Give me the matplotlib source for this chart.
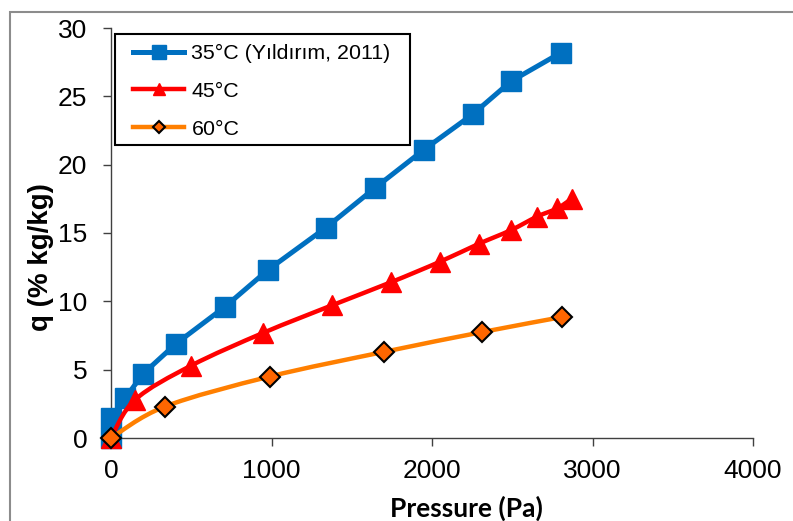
import numpy as np
import matplotlib
matplotlib.use("Agg")
import matplotlib.pyplot as plt
from matplotlib.path import Path
from matplotlib.patches import PathPatch, Rectangle
from matplotlib.lines import Line2D

# data
p35 = [0, 0, 87, 200, 405, 710, 978, 1340, 1645, 1950, 2255, 2492, 2804]
q35 = [0, 1.5, 2.9, 4.7, 6.9, 9.6, 12.3, 15.4, 18.3, 21.1, 23.7, 26.1, 28.2]

p45 = [0, 150, 500, 950, 1375, 1745, 2050, 2290, 2490, 2655, 2780, 2870]
q45 = [0, 2.8, 5.3, 7.7, 9.7, 11.4, 12.9, 14.2, 15.2, 16.2, 16.8, 17.5]

p60 = [0, 336, 990, 1700, 2312, 2810]
q60 = [0, 2.3, 4.5, 6.3, 7.75, 8.85]

labels = ["35°C (Yıldırım, 2011)", "45°C", "60°C"]
xticks = [0, 1000, 2000, 3000, 4000]
yticks = [0, 5, 10, 15, 20, 25, 30]


def smooth_path(x, y):
    # excel style smoothed line (catmull-rom -> bezier)
    pts = np.column_stack([x, y]).astype(float)
    verts = [pts[0]]
    codes = [Path.MOVETO]
    n = len(pts)
    for i in range(n - 1):
        p0 = pts[i - 1] if i > 0 else pts[i]
        p1 = pts[i]
        p2 = pts[i + 1]
        p3 = pts[i + 2] if i + 2 < n else pts[i + 1]
        verts += [p1 + (p2 - p0) / 6, p2 - (p3 - p1) / 6, p2]
        codes += [Path.CURVE4] * 3
    return Path(verts, codes)


blue = "#0070C0"
red = "#FF0000"
orange = "#FF7F00"

fig = plt.figure(figsize=(7.93, 5.21), dpi=100)
ax = fig.add_axes([111 / 793, 83 / 521, 642 / 793, 410 / 521])

# axes px -> axes fraction helpers
def axx(px):
    return (px - 111) / 642

def axy(py):
    return (438 - py) / 410

# 35 C
ax.plot(p35, q35, color=blue, lw=3.6, marker="s", ms=14.5, mec=blue, mfc=blue,
        zorder=3, clip_on=False)

# 45 C
ax.add_patch(PathPatch(smooth_path(p45, q45), fill=False, ec=red, lw=3.2, zorder=4))
ax.plot(p45, q45, ls="none", marker="^", ms=14, mfc=red, mec=red, zorder=4, clip_on=False)

# 60 C
ax.add_patch(PathPatch(smooth_path(p60, q60), fill=False, ec=orange, lw=3.2, zorder=5))
ax.plot(p60, q60, ls="none", marker="D", ms=10, mfc="#FF6600", mec="black", mew=1.5,
        zorder=5, clip_on=False)

ax.set_xlim(0, 4000)
ax.set_ylim(0, 30)
ax.set_xticks(xticks)
ax.set_yticks(yticks)

for s in ["top", "right"]:
    ax.spines[s].set_visible(False)
for s in ["left", "bottom"]:
    ax.spines[s].set_color("#404040")
    ax.spines[s].set_linewidth(1.0)
    ax.spines[s].set_zorder(1)

ax.tick_params(direction="out", length=6, width=1, color="#404040", labelsize=19)
ax.tick_params(axis="y", pad=11)
ax.tick_params(axis="x", pad=9)
for t in ax.get_xticklabels() + ax.get_yticklabels():
    t.set_fontfamily("Liberation Sans")

ax.set_ylabel("q (% kg/kg)", fontsize=20, fontweight="bold", family="Liberation Sans")
ax.yaxis.set_label_coords(axx(41), axy(257))
ax.yaxis.label.set_va("center")
ax.set_xlabel("Pressure (Pa)", fontsize=19, fontweight="bold", family="Lato")
ax.xaxis.set_label_coords(axx(466), axy(508))
ax.xaxis.label.set_va("center")

# legend frame drawn separately
ax.add_patch(Rectangle((axx(115), axy(145)), axx(410) - axx(115), axy(34) - axy(145),
                       transform=ax.transAxes, fc="white", ec="black", lw=1.5,
                       zorder=6, clip_on=False))
handles = [
    Line2D([], [], color=blue, lw=3.6, marker="s", ms=14.5, mfc=blue, mec=blue),
    Line2D([], [], color=red, lw=3.2, marker="^", ms=14, mfc=red, mec=red),
    Line2D([], [], color=orange, lw=3.2, marker="D", ms=10, mfc="#FF6600", mec="black", mew=1.5),
]
leg = ax.legend(handles, labels, loc="upper left", bbox_to_anchor=(axx(133), axy(44)),
                prop={"family": "Liberation Sans", "size": 15.4}, markerscale=0.65,
                handlelength=2.4, handletextpad=0.33, labelspacing=0.88,
                borderpad=0, borderaxespad=0, frameon=False)
leg.set_zorder(7)

# outer chart frame (cut off at right and bottom)
fig.patches.append(Rectangle((10 / 793, -0.1), 1.2, 1.1 - 12 / 521,
                             transform=fig.transFigure, fill=False,
                             ec="#8c8c8c", lw=1.5, zorder=0))

fig.savefig("out.png", dpi=100)
